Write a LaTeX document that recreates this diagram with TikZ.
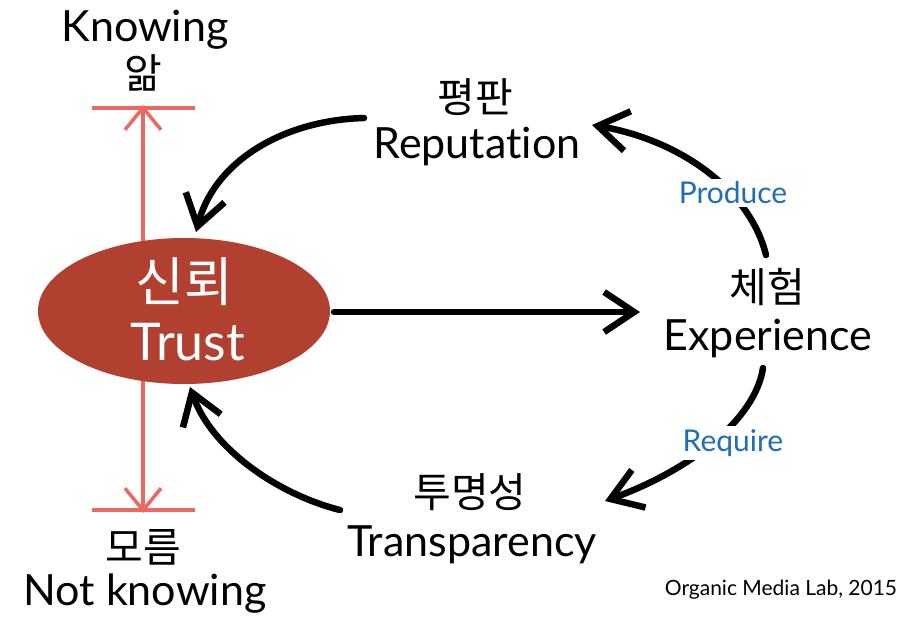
\documentclass[tikz,border=0pt]{standalone}
\usepackage{fontspec}
\setmainfont{Lato}[Ligatures=NoCommon]
\newfontfamily\kr{Noto Sans CJK KR}
\usetikzlibrary{shapes.geometric,arrows.meta}
\definecolor{trustred}{RGB}{178,64,48}
\definecolor{axisred}{RGB}{236,104,96}
\definecolor{verbblue}{RGB}{30,110,185}
\tikzset{
  lbl/.style={font=\fontsize{43}{46}\selectfont, text=black, inner sep=1pt},
  krl/.style={font=\kr\fontsize{41}{44}\selectfont, text=black, inner sep=1pt},
  verb/.style={font=\fontsize{30}{32}\selectfont, text=verbblue, fill=white, inner sep=3pt},
  chalk/.style={draw=black, line width=6.5pt, line cap=round,
    -{Straight Barb[length=30pt,width=40pt,line width=6.5pt]}},
  axis/.style={draw=axisred, line width=3.5pt,
    -{Straight Barb[length=22pt,width=36pt,line width=3.5pt]}},
  bar/.style={draw=axisred, line width=4pt}
}
\begin{document}
\begin{tikzpicture}[x=1pt,y=-1pt]
\useasboundingbox (0,0) rectangle (924,633);
% axis
\coordinate (axtop) at (143,108);
\coordinate (axbot) at (143,510);
\coordinate (axmid) at (143,310);
\coordinate (bt1) at (92,108); \coordinate (bt2) at (195,108);
\coordinate (bb1) at (92,510); \coordinate (bb2) at (195,510);
\draw[bar] (bt1) -- (bt2);
\draw[bar] (bb1) -- (bb2);
\draw[axis] (axmid) -- ([yshift=3pt]axtop);
\draw[axis] (axmid) -- ([yshift=-3pt]axbot);
% trust ellipse
\node[ellipse, fill=trustred, minimum width=292pt, minimum height=146pt, inner sep=0pt] (trust) at (184,311) {};
\node[font=\kr\fontsize{53}{56}\selectfont, text=white] (trustkr) at (184,282) {신뢰};
\node[font=\fontsize{52}{56}\selectfont, text=white] (trusten) at (188,342) {Trust};
% labels
\node[lbl] (know) at (145,30) {Knowing};
\node[krl] (knowkr) at (143,73) {앎};
\node[krl] (notkr) at (143,547) {모름};
\node[lbl] (notknow) at (145,594) {Not knowing};
\node[krl] (repkr) at (475,97) {평판};
\node[lbl] (rep) at (477,146) {Reputation};
\node[krl] (expkr) at (767,287) {체험};
\node[lbl] (exp) at (768,338) {Experience};
\node[krl] (trkr) at (470,492) {투명성};
\node[lbl] (tr) at (472,545) {Transparency};
\node[font=\fontsize{21}{24}\selectfont] (credit) at (781,590) {Organic Media Lab, 2015};
% arrow endpoints
\coordinate (a1s) at (364,118); \coordinate (a1e) at (196,232);
\coordinate (a2s) at (334,312); \coordinate (a2e) at (640,312);
\coordinate (a3s) at (340,510); \coordinate (a3e) at (190,387);
\coordinate (a4s) at (766,255); \coordinate (a4e) at (592,125);
\coordinate (a5s) at (763,368); \coordinate (a5e) at (605,501);
% arrows
\draw[chalk] (a1s) .. controls (285,120) and (215,160) .. (a1e);
\draw[chalk] (a2s) -- (a2e);
\draw[chalk] (a3s) .. controls (280,495) and (212,450) .. (a3e);
\draw[chalk] (a4s) .. controls (750,190) and (680,140) .. (a4e);
\draw[chalk] (a5s) .. controls (755,420) and (690,470) .. (a5e);
\node[verb] (produce) at (733,193) {Produce};
\node[verb] (require) at (733,443) {Require};
\end{tikzpicture}
\end{document}
